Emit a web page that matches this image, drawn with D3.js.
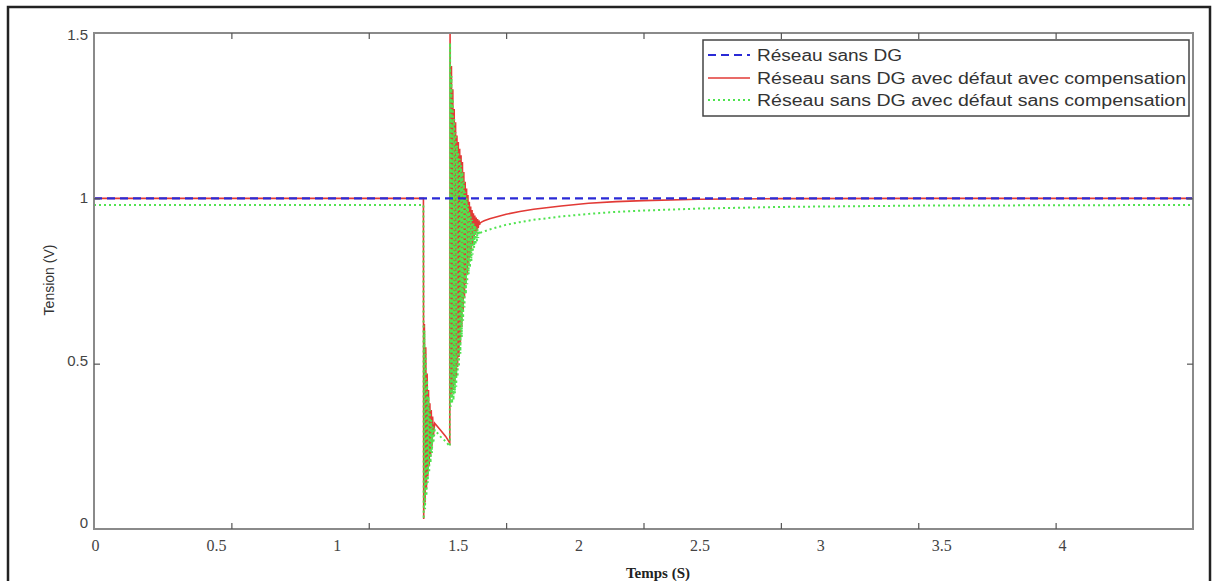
<!DOCTYPE html>
<html lang="fr">
<head>
<meta charset="utf-8">
<script src="https://cdn.jsdelivr.net/npm/d3@7"></script>
<style>
  html, body { margin: 0; padding: 0; background: #fff; }
  svg { display: block; }
</style>
</head>
<body>
<svg id="fig" width="1217" height="581"></svg>
<script>
// Simulated time (s) shared by the two fault curves
const temps = [
  0, 1.199,
  // fault: fast ringing then slow sag
  1.2000, 1.2025, 1.2050, 1.2075, 1.2100, 1.2125, 1.2150, 1.2175, 1.2200, 1.2225,
  1.2250, 1.2275, 1.2300, 1.2325, 1.2350, 1.24, 1.26, 1.28, 1.295,
  // fault cleared: overshoot
  1.296,
  1.2985, 1.3010, 1.3035, 1.3060, 1.3085, 1.3110, 1.3135, 1.3160, 1.3185, 1.3210,
  1.3235, 1.3260, 1.3285, 1.3310, 1.3335, 1.3360, 1.3385, 1.3410, 1.3435, 1.3460,
  1.3485, 1.3510, 1.3535, 1.3560, 1.3585, 1.3610, 1.3635, 1.3660, 1.3685, 1.3710,
  1.3735, 1.3760, 1.3785, 1.3810, 1.3835, 1.3860, 1.3885, 1.3910, 1.3935, 1.3960,
  1.3985, 1.4010, 1.4035,
  // recovery
  1.405, 1.41, 1.42, 1.44, 1.47, 1.5, 1.55, 1.6, 1.7, 1.8, 1.9, 2.0, 2.2, 2.5, 3.0, 4.0
];

// Voltage (pu) with fault, with compensation
const avecCompensation = [
  1.0, 1.0,
  0.03, 0.62, 0.08, 0.55, 0.12, 0.47, 0.16, 0.42, 0.19, 0.38,
  0.22, 0.36, 0.25, 0.34, 0.28, 0.32, 0.30, 0.28, 0.26,
  1.50,
  0.40, 1.40, 0.41, 1.33, 0.42, 1.27, 0.44, 1.23, 0.46, 1.19,
  0.49, 1.17, 0.52, 1.15, 0.56, 1.13, 0.61, 1.11, 0.66, 1.08,
  0.70, 1.05, 0.74, 1.03, 0.77, 1.01, 0.80, 0.99, 0.82, 0.975,
  0.84, 0.965, 0.86, 0.955, 0.88, 0.948, 0.89, 0.942, 0.90, 0.937,
  0.91, 0.933, 0.92,
  0.925, 0.928, 0.932, 0.938, 0.945, 0.952, 0.96, 0.967, 0.977, 0.985, 0.99, 0.993, 0.997, 0.999, 1.0, 1.0
];

// Voltage (pu) with fault, without compensation
const sansCompensation = [
  0.98, 0.98,
  0.03, 0.60, 0.06, 0.53, 0.10, 0.45, 0.14, 0.40, 0.17, 0.36,
  0.20, 0.33, 0.23, 0.31, 0.26, 0.30, 0.28, 0.265, 0.25,
  1.47,
  0.37, 1.37, 0.38, 1.30, 0.39, 1.24, 0.41, 1.20, 0.43, 1.16,
  0.46, 1.14, 0.49, 1.12, 0.53, 1.10, 0.58, 1.08, 0.63, 1.05,
  0.67, 1.02, 0.71, 1.00, 0.74, 0.98, 0.77, 0.96, 0.79, 0.945,
  0.81, 0.935, 0.83, 0.925, 0.85, 0.918, 0.86, 0.912, 0.87, 0.907,
  0.88, 0.903, 0.89,
  0.895, 0.897, 0.90, 0.906, 0.913, 0.92, 0.928, 0.935, 0.945, 0.953, 0.959, 0.963, 0.969, 0.974, 0.978, 0.98
];

// Reference network without DG: flat 1 pu
const tempsReference = [0, 4];
const reseauSansDG = [1, 1];

// Axis graduations and printed labels
const graduationsX = [0.5, 1, 1.5, 2, 2.5, 3, 3.5];
const etiquettesX = [0, 0.5, 1, 1.5, 2, 2.5, 3, 3.5, 4];
const graduationsY = [0.5, 1];
const etiquettesY = [0, 0.5, 1, 1.5];

const legende = [
  "Réseau sans DG",
  "Réseau sans DG avec défaut avec compensation",
  "Réseau sans DG avec défaut sans compensation"
];

const svg = d3.select("#fig");
const plot = { left: 94, top: 33, right: 1193, bottom: 529 };

const x = d3.scaleLinear().domain([0, 4]).range([plot.left, plot.right]);
const y = d3.scaleLinear().domain([0, 1.5]).range([plot.bottom, plot.top]);
// The printed labels sit on their own spacing
const xEtiquette = d3.scaleLinear().domain([0, 4]).range([95, 1062]);
const yEtiquette = d3.scaleLinear().domain([0, 1.5]).range([523, 35]);

// Outer figure frame
svg.append("rect")
  .attr("x", 8).attr("y", 7).attr("width", 1202).attr("height", 590)
  .attr("fill", "none").attr("stroke", "#222").attr("stroke-width", 2.5);

// Curves
const ligne = (ts, vs) => d3.line()
  .x((d, i) => x(ts[i]))
  .y(d => y(d))(vs);

const styles = [
  { color: "#2a2ad6", width: 2.2, dash: "8,5" },
  { color: "#e23a36", width: 1.6, dash: null },
  { color: "#4fe34f", width: 2.0, dash: "2,3" }
];

const courbes = svg.append("g");
courbes.append("path")
  .attr("d", ligne(temps, avecCompensation))
  .attr("fill", "none").attr("stroke", styles[1].color)
  .attr("stroke-width", styles[1].width);
courbes.append("path")
  .attr("d", ligne(temps, sansCompensation))
  .attr("fill", "none").attr("stroke", styles[2].color)
  .attr("stroke-width", styles[2].width)
  .attr("stroke-dasharray", styles[2].dash);
courbes.append("path")
  .attr("d", ligne(tempsReference, reseauSansDG))
  .attr("fill", "none").attr("stroke", styles[0].color)
  .attr("stroke-width", styles[0].width)
  .attr("stroke-dasharray", styles[0].dash);

// Plot box
svg.append("rect")
  .attr("x", plot.left).attr("y", plot.top)
  .attr("width", plot.right - plot.left).attr("height", plot.bottom - plot.top)
  .attr("fill", "none").attr("stroke", "#8a8a8a").attr("stroke-width", 2);

// Inward tick marks on all four sides
const ticks = (axis, tx, ty) => {
  const g = svg.append("g").attr("transform", `translate(${tx},${ty})`).call(axis);
  g.select(".domain").remove();
  g.selectAll("line").attr("stroke", "#555").attr("stroke-width", 1.2);
  g.selectAll("text").remove();
};
ticks(d3.axisBottom(x).tickValues(graduationsX).tickSize(-6), 0, plot.bottom);
ticks(d3.axisTop(x).tickValues(graduationsX).tickSize(-6), 0, plot.top);
ticks(d3.axisLeft(y).tickValues(graduationsY).tickSize(-6), plot.left, 0);
ticks(d3.axisRight(y).tickValues(graduationsY).tickSize(-6), plot.right, 0);

// Tick labels
const labX = svg.append("g")
  .attr("transform", `translate(0,${plot.bottom})`)
  .call(d3.axisBottom(xEtiquette).tickValues(etiquettesX).tickSize(0).tickPadding(11)
    .tickFormat(d => String(d)));
labX.select(".domain").remove();
labX.selectAll("text")
  .attr("font-family", "'Liberation Serif', 'Times New Roman', serif")
  .attr("font-size", 16).attr("fill", "#444");

const labY = svg.append("g")
  .attr("transform", `translate(${plot.left},0)`)
  .call(d3.axisLeft(yEtiquette).tickValues(etiquettesY).tickSize(0).tickPadding(6)
    .tickFormat(d => String(d)));
labY.select(".domain").remove();
labY.selectAll("text")
  .attr("font-family", "'Liberation Sans', Arial, sans-serif")
  .attr("font-size", 15).attr("fill", "#444");

// Axis titles
svg.append("text")
  .attr("x", 658).attr("y", 578)
  .attr("text-anchor", "middle")
  .attr("font-family", "'Liberation Serif', 'Times New Roman', serif")
  .attr("font-weight", "bold").attr("font-size", 15).attr("fill", "#222")
  .text("Temps (S)");

svg.append("text")
  .attr("transform", "translate(54,280) rotate(-90)")
  .attr("text-anchor", "middle")
  .attr("font-family", "'Liberation Sans', Arial, sans-serif")
  .attr("font-size", 14).attr("fill", "#333")
  .text("Tension (V)");

// Legend
const leg = svg.append("g");
leg.append("rect")
  .attr("x", 703).attr("y", 40).attr("width", 486).attr("height", 76)
  .attr("fill", "#fff").attr("stroke", "#444").attr("stroke-width", 1.5);

const rangY = [55, 78, 100];
const largeurs = [145, 429, 429];
legende.forEach((txt, i) => {
  const s = styles[i];
  leg.append("line")
    .attr("x1", 708).attr("x2", 750).attr("y1", rangY[i]).attr("y2", rangY[i])
    .attr("stroke", s.color).attr("stroke-width", i === 1 ? 1.3 : 2.2)
    .attr("stroke-dasharray", s.dash);
  leg.append("text")
    .attr("x", 757).attr("y", rangY[i]).attr("dy", "0.36em")
    .attr("font-family", "'Liberation Sans', Arial, sans-serif")
    .attr("font-size", 16).attr("fill", "#333")
    .attr("textLength", largeurs[i]).attr("lengthAdjust", "spacingAndGlyphs")
    .text(txt);
});
</script>
</body>
</html>
